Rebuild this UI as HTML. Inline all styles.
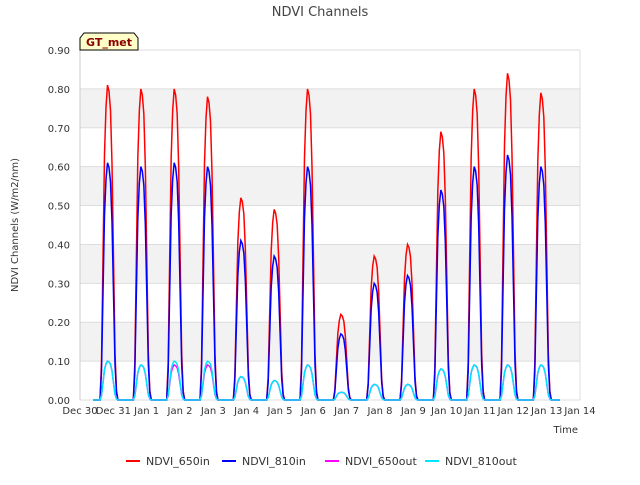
<!DOCTYPE html>
<html><head><meta charset="utf-8"><style>
body{margin:0;background:#fff;font-family:"Liberation Sans",sans-serif}
svg text{font-family:"DejaVu Sans","Liberation Sans",sans-serif}
</style></head><body>
<svg id="c" width="640" height="480" viewBox="0 0 640 480">
<text x="320" y="16" text-anchor="middle" font-size="13" fill="#444">NDVI Channels</text>
<g id="bands"></g><g id="grid"></g><g id="series"></g><g id="axes"></g>
<g>
<path d="M80,50 L80,38 L84,33 L134,33 L138,38 L138,50 Z" fill="#ffffc8" stroke="#000" stroke-width="1"/>
<text x="109" y="46" text-anchor="middle" font-size="11" font-weight="bold" fill="#8b0000">GT_met</text>
</g>
<text x="18" y="225" transform="rotate(-90 18 225)" text-anchor="middle" font-size="10" fill="#333">NDVI Channels (W/m2/nm)</text>
<text x="578" y="433" text-anchor="end" font-size="10" fill="#333">Time</text>
<g id="legend"></g>
</svg>
<script>
const dayLabels=["Dec 30","Dec 31","Jan 1","Jan 2","Jan 3","Jan 4","Jan 5","Jan 6","Jan 7","Jan 8","Jan 9","Jan 10","Jan 11","Jan 12","Jan 13","Jan 14"];
const yTicks=[0,0.1,0.2,0.3,0.4,0.5,0.6,0.7,0.8,0.9];
const seriesNames=["NDVI_650in","NDVI_810in","NDVI_650out","NDVI_810out"];
const seriesColors=["#ff0000","#0000ff","#ff00ff","#00e5ff"];
const peak650in=[0.81,0.80,0.80,0.78,0.52,0.49,0.80,0.22,0.37,0.40,0.69,0.80,0.84,0.79];
const peak810in=[0.61,0.60,0.61,0.60,0.41,0.37,0.60,0.17,0.30,0.32,0.54,0.60,0.63,0.60];
const peak650out=[0.10,0.09,0.09,0.09,0.06,0.05,0.09,0.02,0.04,0.04,0.08,0.09,0.09,0.09];
const peak810out=[0.10,0.09,0.10,0.10,0.06,0.05,0.09,0.02,0.04,0.04,0.08,0.09,0.09,0.09];
const profile=[0,0.12,0.45,0.78,0.93,1,0.98,0.92,0.75,0.45,0.15,0.03,0];
const L=80,R=580,T=50,B=400;
const xs=d=>L+(R-L)*d/15, ys=v=>B-(B-T)*v/0.9;
const NS="http://www.w3.org/2000/svg";
function mk(t,a,p){const e=document.createElementNS(NS,t);for(const k in a)e.setAttribute(k,a[k]);document.getElementById(p).appendChild(e);return e;}
for(let i=0;i<yTicks.length-1;i++){if(i%2===1){const r=mk('rect',{x:L,y:ys(yTicks[i+1]),width:R-L,height:ys(yTicks[i])-ys(yTicks[i+1]),fill:'#f2f2f2'},'bands');

}}
yTicks.forEach(v=>{const l=mk('line',{x1:L,x2:R,y1:ys(v),y2:ys(v),stroke:'#ddd'},'grid');


const t=mk('text',{x:L-10,y:ys(v)+4,'text-anchor':'end','font-size':10,fill:'#333'},'axes');t.textContent=v.toFixed(2);

});
mk('line',{x1:L,x2:L,y1:T,y2:B,stroke:'#ccc'},'grid');mk('line',{x1:R,x2:R,y1:T,y2:B,stroke:'#ddd'},'grid');
dayLabels.forEach((d,i)=>{const t=mk('text',{x:xs(i),y:414,'text-anchor':'middle','font-size':10,fill:'#333'},'axes');t.textContent=d;

});
const peaks=[peak650in,peak810in,peak650out,peak810out];
peaks.forEach((pk,s)=>{let pts=[[xs(0.4),ys(0)]];
pk.forEach((p,d)=>{profile.forEach((f,h)=>{pts.push([xs(d+0.6+h*0.045),ys(p*f)]);});});
pts.push([xs(14.4),ys(0)]);
const pl=mk('polyline',{points:pts.map(p=>p.join(',')).join(' '),fill:'none',stroke:seriesColors[s],'stroke-width':1.5},'series');

});
const lx=[126,222,325,425];
seriesNames.forEach((n,i)=>{const g=mk('g',{},'legend');


const l=document.createElementNS(NS,'line');l.setAttribute('x1',lx[i]);l.setAttribute('x2',lx[i]+14);l.setAttribute('y1',461);l.setAttribute('y2',461);l.setAttribute('stroke',seriesColors[i]);l.setAttribute('stroke-width',2);g.appendChild(l);
const t=document.createElementNS(NS,'text');t.setAttribute('x',lx[i]+20);t.setAttribute('y',465);t.setAttribute('font-size',11);t.setAttribute('fill','#333');t.textContent=n;g.appendChild(t);});
</script>
</body></html>
